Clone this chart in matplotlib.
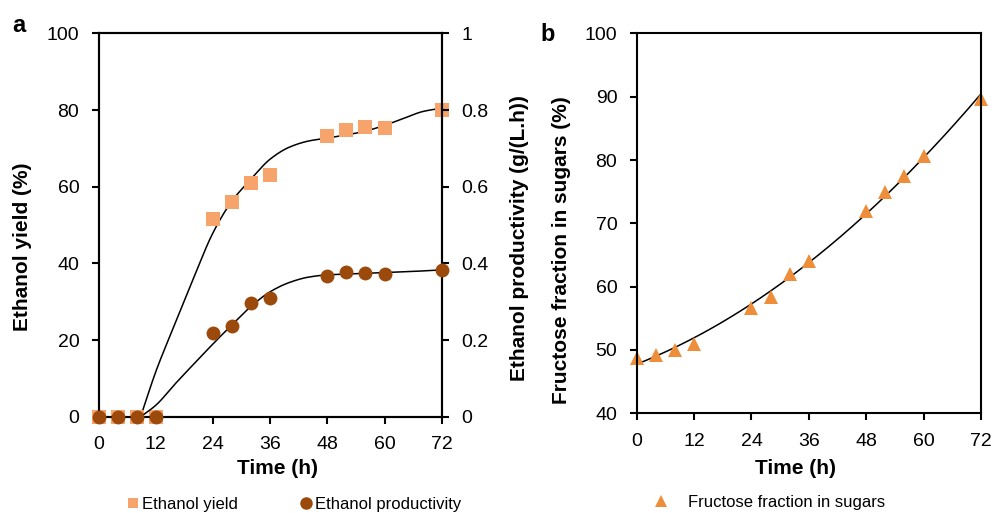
import numpy as np
import matplotlib
matplotlib.use("Agg")
import matplotlib.pyplot as plt
from matplotlib.lines import Line2D

plt.rcParams['font.family'] = ['Liberation Sans', 'DejaVu Sans']

# sampling times (h)
time_h = [0, 4, 8, 12, 24, 28, 32, 36, 48, 52, 56, 60, 72]

# panel a
ethanol_yield = [0, 0, 0, 0, 51.5, 56.1, 60.9, 63.0, 73.1, 74.8, 75.5, 75.2, 80.0]
ethanol_prod = [0, 0, 0, 0, 0.219, 0.237, 0.296, 0.309, 0.367, 0.378, 0.376, 0.371, 0.383]

# fitted curves in panel a (onset of production ~8.8 h)
yield_fit_t = [8.8, 12, 16, 20, 24, 28, 32, 36, 40, 44, 48, 52, 56, 60, 64, 68, 72]
yield_fit = [0, 11.8, 24.2, 36.4, 48.0, 56.3, 62.0, 67.2, 70.3, 71.9, 72.7, 73.5,
             74.5, 76.0, 77.8, 79.6, 80.5]
prod_fit_t = [8.8, 12, 16, 20, 24, 28, 32, 36, 40, 44, 48, 52, 56, 60, 66, 72]
prod_fit = [0, 0.03, 0.085, 0.138, 0.19, 0.24, 0.288, 0.326, 0.35, 0.364, 0.37,
            0.372, 0.374, 0.376, 0.379, 0.383]

# panel b
fructose = [48.8, 49.2, 50.05, 51.0, 56.7, 58.4, 62.0, 64.0, 72.0, 75.0, 77.5, 80.7, 89.6]

x_ticks = [0, 12, 24, 36, 48, 60, 72]
yield_ticks = [0, 20, 40, 60, 80, 100]
prod_ticks = [0, 0.2, 0.4, 0.6, 0.8, 1.0]
prod_ticklabels = ['0', '0.2', '0.4', '0.6', '0.8', '1']
fruc_ticks = [40, 50, 60, 70, 80, 90, 100]

c_yield = '#F6A46C'
c_prod = '#9B4A0C'
c_fruc = '#EE8E3A'


def pchip(xk, yk, xs):
    # monotone cubic hermite (Fritsch-Carlson) for smooth fit lines
    xk = np.asarray(xk, float)
    yk = np.asarray(yk, float)
    h = np.diff(xk)
    d = np.diff(yk) / h
    m = np.zeros_like(yk)
    for i in range(1, len(xk) - 1):
        if d[i - 1] * d[i] > 0:
            w1 = 2 * h[i] + h[i - 1]
            w2 = h[i] + 2 * h[i - 1]
            m[i] = (w1 + w2) / (w1 / d[i - 1] + w2 / d[i])
    m[0] = d[0]
    m[-1] = d[-1]
    idx = np.clip(np.searchsorted(xk, xs) - 1, 0, len(h) - 1)
    t = (xs - xk[idx]) / h[idx]
    h00 = 2 * t**3 - 3 * t**2 + 1
    h10 = t**3 - 2 * t**2 + t
    h01 = -2 * t**3 + 3 * t**2
    h11 = t**3 - t**2
    return (h00 * yk[idx] + h10 * h[idx] * m[idx] + h01 * yk[idx + 1]
            + h11 * h[idx] * m[idx + 1])


def style_axis(ax):
    for s in ax.spines.values():
        s.set_linewidth(1.5)
    ax.tick_params(direction='out', length=5, width=1.5, labelsize=14, pad=9)


fig = plt.figure(figsize=(9.93, 5.13), dpi=100)

# ---- panel a ----
ax = fig.add_axes([0.0994, 0.1877, 0.3454, 0.7473])
ax2 = ax.twinx()

xs = np.linspace(yield_fit_t[0], 72, 300)
ax.plot([0, yield_fit_t[0]], [0, 0], color='black', lw=1.1)
ax.plot(xs, pchip(yield_fit_t, yield_fit, xs), color='black', lw=1.1)
ax.plot(time_h, ethanol_yield, 's', color=c_yield, ms=9.5, mew=0, clip_on=False)

xs2 = np.linspace(prod_fit_t[0], 72, 300)
ax2.plot(xs2, pchip(prod_fit_t, prod_fit, xs2), color='black', lw=1.1, zorder=3)
ax2.plot(time_h, ethanol_prod, 'o', color=c_prod, ms=10, mew=0, clip_on=False,
         zorder=4)

ax.set_xlim(0, 72)
ax.set_ylim(0, 100)
ax2.set_ylim(0, 1)
ax.set_xticks(x_ticks)
ax.set_yticks(yield_ticks)
ax2.set_yticks(prod_ticks)
ax2.set_yticklabels(prod_ticklabels)
style_axis(ax)
style_axis(ax2)
ax.set_xlabel('Time (h)', fontsize=15, fontweight='bold')
ax.xaxis.set_label_coords(0.52, -0.11)
ax.set_ylabel('Ethanol yield (%)', fontsize=15, fontweight='bold')
ax.yaxis.set_label_coords(-0.194, 0.443)
ax2.set_ylabel('Ethanol productivity (g/(L.h))', fontsize=15, fontweight='bold')
ax2.yaxis.set_label_coords(1.20, 0.465)

# ---- panel b ----
bx = fig.add_axes([0.6412, 0.1943, 0.3467, 0.7407])
coef = np.polyfit(time_h, fructose, 2)
xs3 = np.linspace(0, 72, 300)
bx.plot(xs3, np.polyval(coef, xs3), color='black', lw=1.1)
bx.plot(time_h, fructose, '^', color=c_fruc, ms=10, mew=0, clip_on=False)
bx.set_xlim(0, 72)
bx.set_ylim(40, 100)
bx.set_xticks(x_ticks)
bx.set_yticks(fruc_ticks)
style_axis(bx)
bx.set_xlabel('Time (h)', fontsize=15, fontweight='bold')
bx.xaxis.set_label_coords(0.46, -0.12)
bx.set_ylabel('Fructose fraction in sugars (%)', fontsize=15, fontweight='bold')
bx.yaxis.set_label_coords(-0.191, 0.43)

# panel letters
fig.text(0.0128, 0.938, 'a', fontsize=17, fontweight='bold')
fig.text(0.5438, 0.920, 'b', fontsize=17, fontweight='bold')

# legends
h1 = Line2D([], [], marker='s', ls='none', color=c_yield, ms=7, mew=0)
h2 = Line2D([], [], marker='o', ls='none', color=c_prod, ms=9, mew=0)
fig.legend([h1, h2], ['Ethanol yield', 'Ethanol productivity'], ncol=2,
           loc='center', bbox_to_anchor=(0.2966, 0.0175), frameon=False,
           fontsize=12, handlelength=0.6, handletextpad=0.25,
           columnspacing=3.8, borderpad=0)
h3 = Line2D([], [], marker='^', ls='none', color=c_fruc, ms=8, mew=0)
fig.legend([h3], ['Fructose fraction in sugars'], loc='center',
           bbox_to_anchor=(0.7734, 0.0214), frameon=False, fontsize=12,
           handlelength=1.2, handletextpad=1.0, borderpad=0)

fig.savefig('out.png', dpi=100)
